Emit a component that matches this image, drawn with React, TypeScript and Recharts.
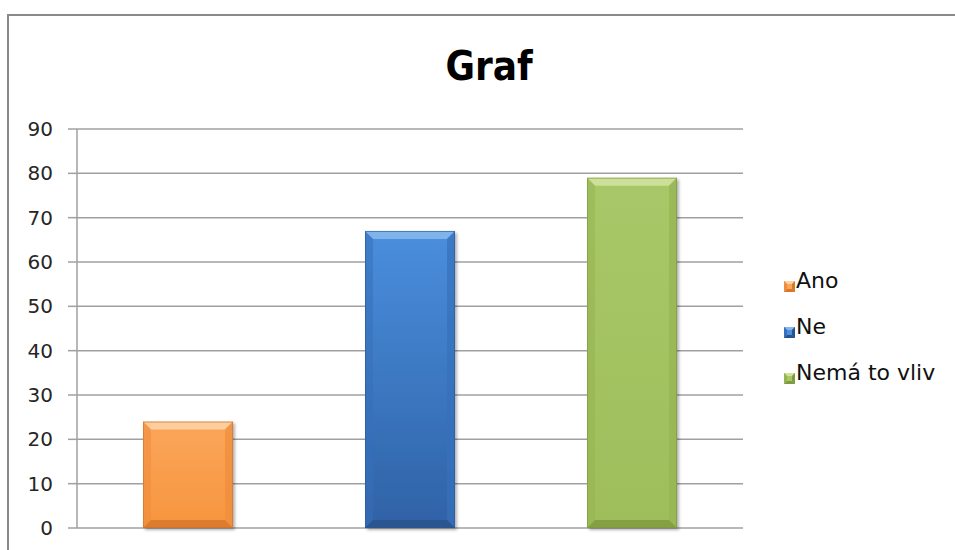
import React from 'react';
import { BarChart, Bar, XAxis, YAxis, CartesianGrid } from 'recharts';

const categories = ['Ano', 'Ne', 'Nemá to vliv'];
const values = [24, 67, 79];
const yTicks = [0, 10, 20, 30, 40, 50, 60, 70, 80, 90];
const chartTitle = 'Graf';

const barStyles = [
  { top: '#FBA55A', bottom: '#F7953F', bevelTop: '#FDD3A4', side: '#EE8D3C', bevelBottom: '#D8782C', edge: '#C87030' },
  { top: '#4A8EDD', bottom: '#2F62A6', bevelTop: '#86B6EC', side: '#3670BA', bevelBottom: '#28528C', edge: '#2A5694' },
  { top: '#A8C768', bottom: '#9EBE5B', bevelTop: '#CFE29E', side: '#95B451', bevelBottom: '#7F9B40', edge: '#7A953E' },
];

const data = categories.map((name, i) => ({ name, value: values[i] }));

const BevelBar = (props: any) => {
  const { x, y, width, height, index } = props;
  if (width == null || height == null || height <= 0) return null;
  const s = barStyles[index % barStyles.length];
  const b = Math.min(8, height / 3, width / 3);
  const x2 = x + width;
  const y2 = y + height;
  return (
    <g filter="url(#barShadow)">
      <rect x={x} y={y} width={width} height={height} fill={`url(#barGrad${index})`} />
      <polygon points={`${x},${y} ${x2},${y} ${x2 - b},${y + b} ${x + b},${y + b}`} fill={s.bevelTop} opacity={0.9} />
      <polygon points={`${x},${y} ${x + b},${y + b} ${x + b},${y2 - b} ${x},${y2}`} fill={s.side} opacity={0.55} />
      <polygon points={`${x2},${y} ${x2 - b},${y + b} ${x2 - b},${y2 - b} ${x2},${y2}`} fill={s.side} opacity={0.7} />
      <polygon points={`${x},${y2} ${x + b},${y2 - b} ${x2 - b},${y2 - b} ${x2},${y2}`} fill={s.bevelBottom} opacity={0.85} />
      <rect x={x + 0.5} y={y + 0.5} width={width - 1} height={height - 1} fill="none" stroke={s.edge} strokeOpacity={0.6} strokeWidth={1} />
    </g>
  );
};

const LegendSquare = ({ i }: { i: number }) => {
  const s = barStyles[i];
  return (
    <svg width={11} height={11} style={{ display: 'block', marginTop: 13, marginRight: 1, flex: '0 0 auto' }}>
      <rect x={0} y={0} width={11} height={11} fill={s.top} />
      <polygon points="0,0 11,0 8,3 3,3" fill={s.bevelTop} />
      <polygon points="0,11 3,8 8,8 11,11" fill={s.bevelBottom} />
      <polygon points="0,0 3,3 3,8 0,11" fill={s.side} />
      <polygon points="11,0 8,3 8,8 11,11" fill={s.bevelBottom} />
    </svg>
  );
};

export default function App() {
  return (
    <div style={{ position: 'fixed', left: 0, top: 0, width: 955, height: 550, overflow: 'hidden', background: '#fff' }}>
      <div
        style={{
          position: 'absolute',
          left: 7,
          top: 14,
          width: 1200,
          height: 1200,
          borderTop: '2px solid #8a8a8a',
          borderLeft: '2px solid #8a8a8a',
          boxSizing: 'border-box',
        }}
      />
      <div
        style={{
          position: 'absolute',
          left: 0,
          top: 46,
          width: 978,
          textAlign: 'center',
          fontFamily: "'Liberation Sans Narrow', 'DejaVu Sans Condensed', sans-serif",
          fontWeight: 'bold',
          fontSize: 40,
          lineHeight: '40px',
          color: '#000',
        }}
      >
        {chartTitle}
      </div>
      <div style={{ position: 'absolute', left: 0, top: 0 }}>
        <BarChart width={955} height={550} data={data} margin={{ top: 129, right: 212, bottom: 22, left: 0 }}>
          <defs>
            {barStyles.map((s, i) => (
              <linearGradient key={i} id={`barGrad${i}`} x1="0" y1="0" x2="0" y2="1">
                <stop offset="0%" stopColor={s.top} />
                <stop offset="100%" stopColor={s.bottom} />
              </linearGradient>
            ))}
            <filter id="barShadow" x="-10%" y="-10%" width="130%" height="130%">
              <feDropShadow dx="2" dy="2" stdDeviation="1.5" floodColor="#000" floodOpacity="0.3" />
            </filter>
          </defs>
          <CartesianGrid vertical={false} stroke="#a0a0a0" strokeWidth={1.5} />
          <XAxis dataKey="name" hide />
          <YAxis
            width={77}
            domain={[0, 90]}
            ticks={yTicks}
            interval={0}
            tickSize={9}
            tickMargin={15}
            axisLine={{ stroke: '#a0a0a0', strokeWidth: 1.5 }}
            tickLine={{ stroke: '#a0a0a0', strokeWidth: 1.5 }}
            tick={{ fill: '#262626', fontSize: 20, fontFamily: 'DejaVu Sans' }}
          />
          <Bar dataKey="value" barSize={90} isAnimationActive={false} shape={BevelBar} />
        </BarChart>
      </div>
      <div
        style={{
          position: 'absolute',
          left: 784,
          top: 268,
          fontFamily: 'DejaVu Sans',
          fontSize: 22,
          color: '#111',
        }}
      >
        {categories.map((c, i) => (
          <div key={c} style={{ display: 'flex', alignItems: 'flex-start', height: 46 }}>
            <LegendSquare i={i} />
            <span style={{ lineHeight: '25px', whiteSpace: 'nowrap' }}>{c}</span>
          </div>
        ))}
      </div>
    </div>
  );
}
